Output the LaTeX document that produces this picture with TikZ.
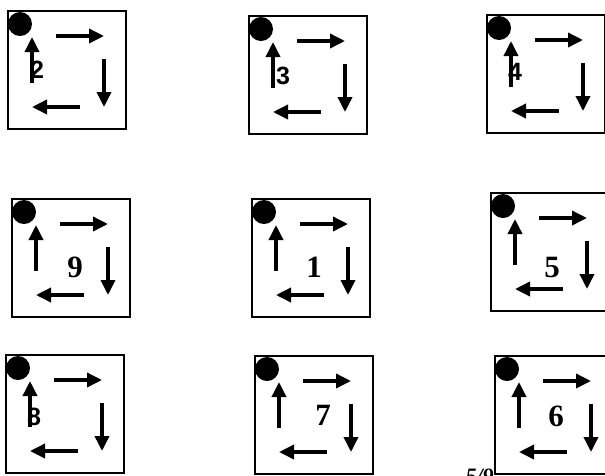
\documentclass[tikz,border=0pt]{standalone}
\usepackage{fontspec}
\setmainfont{Liberation Serif}
\setsansfont{Liberation Sans}
\usetikzlibrary{arrows.meta}

\newcommand{\sanslab}{\sffamily\bfseries\fontsize{25}{25}\selectfont}
\newcommand{\seriflab}{\rmfamily\bfseries\fontsize{31}{31}\selectfont}

\begin{document}
\begin{tikzpicture}[
    x=1pt, y=-1pt,
    cell/.style={rectangle, draw=black, line width=1.4pt, fill=white, minimum size=118pt, inner sep=0pt, outer sep=0pt, anchor=north west},
    flow/.style={line width=3.5pt, -{Triangle[length=15pt, width=14pt]}},
    lab/.style={inner sep=0pt}
]
\useasboundingbox (0,0) rectangle (605,475);
\clip (0,0) rectangle (605,475);

% --- Page number, partly hidden ---
\node[anchor=base west, font=\rmfamily\bfseries\itshape\fontsize{22}{22}\selectfont] (pagenum) at (462,483) {5/9};

% --- Nine cells: number/x/y/label x/label y/font ---
\foreach \n/\x/\y/\lx/\ly/\f in {
    2/8/11/29/59/\sanslab, 3/249/16/34/60/\sanslab, 4/487/15/28/57/\sanslab,
    9/12/199/63/68/\seriflab, 1/252/199/62/68/\seriflab, 5/491/193/61/74/\seriflab,
    8/6/355/28/62/\sanslab, 7/255/356/68/59/\seriflab, 6/495/356/61/60/\seriflab}{
  \node[cell] (box\n) at (\x,\y) {};
  \begin{scope}[shift={(box\n.north west)}]
    \node[lab, font=\f] (lab\n) at (\lx,\ly) {\n};
    \fill (12,13) circle (12);
    \draw[flow] (48,25) -- (96,25);
    \draw[flow] (96,48) -- (96,96);
    \draw[flow] (72,96) -- (24,96);
    \draw[flow] (24,72) -- (24,26);
  \end{scope}
}

\end{tikzpicture}
\end{document}
